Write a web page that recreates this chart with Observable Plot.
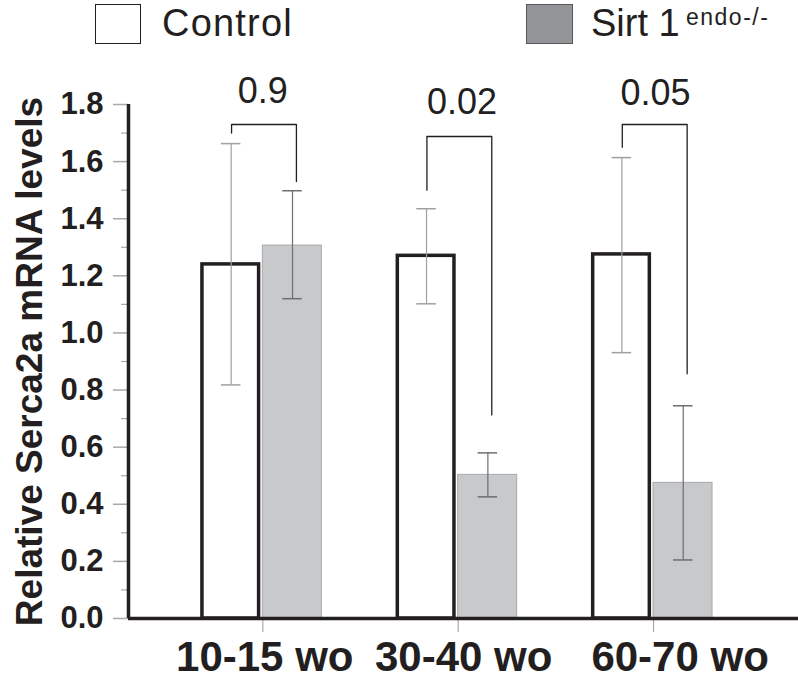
<!DOCTYPE html>
<html>
<head>
<meta charset="utf-8">
<script src="https://cdn.jsdelivr.net/npm/d3@7"></script>
<script src="https://cdn.jsdelivr.net/npm/@observablehq/plot@0.6"></script>
<style>
  body { margin: 0; background: #fff; }
  #wrap { width: 798px; height: 688px; position: relative; font-family: "Liberation Sans", Arial, Helvetica, sans-serif; color: #231f20; }
  #legend { position: relative; width: 798px; height: 52px; }
  .box { position: absolute; box-sizing: border-box; }
  .lt { position: absolute; font-size: 38px; line-height: 1; white-space: nowrap; }
  .sup { position: absolute; font-size: 23px; line-height: 1; white-space: nowrap; letter-spacing: 1.5px; }
  #chart svg { display: block; }
</style>
</head>
<body>
<div id="wrap">
  <div id="legend">
    <div class="box" style="left:95px;top:4px;width:46px;height:40px;border:1.5px solid #231f20;background:#fff;"></div>
    <span class="lt" style="left:162px;top:4px;letter-spacing:1.2px;">Control</span>
    <div class="box" style="left:526px;top:4px;width:47px;height:40px;border:1.5px solid #58595b;background:#939598;"></div>
    <span class="lt" style="left:591px;top:4px;">Sirt 1</span>
    <span class="sup" style="left:686px;top:6px;">endo-/-</span>
  </div>
  <div id="chart"></div>
</div>
<script>
// ---- data ----
const groups = ["10-15 wo", "30-40 wo", "60-70 wo"];
const controlMean = [1.24, 1.27, 1.275];
const controlHigh = [1.663, 1.435, 1.614];
const controlLow  = [0.818, 1.102, 0.931];
const sirtMean = [1.306, 0.503, 0.475];
const sirtHigh = [1.498, 0.580, 0.745];
const sirtLow  = [1.120, 0.426, 0.205];
const pValues = ["0.9", "0.02", "0.05"];
const pLabelY = [1.804, 1.765, 1.80];
const bracketTop = [1.73, 1.688, 1.73];
const bracketLeftEnd = [1.70, 1.50, 1.65];
const bracketRightEnd = [1.53, 0.713, 0.857];
const yTicks = [0, 0.2, 0.4, 0.6, 0.8, 1.0, 1.2, 1.4, 1.6, 1.8];
const yMinorTicks = [0.1, 0.3, 0.5, 0.7, 0.9, 1.1, 1.3, 1.5, 1.7];

// ---- layout options (within-group offsets, in group units) ----
const barSpan = {Control: [-0.309, -0.019], Sirt: [0.0, 0.302]};
const errOffset = {Control: -0.162, Sirt: 0.152};
const capHalf = 0.05;
const legLeft = -0.16, legRight = 0.172;
const labelShift = [0.01, 0.028, 0.136];
const pShift = [0.0, 0.02, 0.01];
const xDomain = [-0.6875, 2.742];

const rows = groups.flatMap((g, i) => [
  {gi: i, series: "Control", mean: controlMean[i], lo: controlLow[i], hi: controlHigh[i]},
  {gi: i, series: "Sirt", mean: sirtMean[i], lo: sirtLow[i], hi: sirtHigh[i]}
]);
const ctrl = rows.filter(d => d.series === "Control");
const sirt = rows.filter(d => d.series === "Sirt");
const caps = rows.flatMap(d => [{...d, y: d.lo}, {...d, y: d.hi}]);
const bracketPts = groups.flatMap((g, i) => [
  {gi: i, x: i + legLeft, y: bracketLeftEnd[i]},
  {gi: i, x: i + legLeft, y: bracketTop[i]},
  {gi: i, x: i + legRight, y: bracketTop[i]},
  {gi: i, x: i + legRight, y: bracketRightEnd[i]}
]);
const pRows = groups.map((g, i) => ({gi: i, label: pValues[i], y: pLabelY[i]}));
const labelRows = groups.map((g, i) => ({gi: i, label: g}));

const ink = "#231f20";
const tickGray = "#a7a9ac";

const chart = Plot.plot({
  width: 798,
  height: 636,
  marginLeft: 128,
  marginRight: 0,
  marginTop: 52,
  marginBottom: 70,
  style: {fontFamily: '"Liberation Sans", Arial, Helvetica, sans-serif', background: "#fff", overflow: "visible"},
  x: {domain: xDomain},
  y: {domain: [0, 1.8]},
  marks: [
    Plot.axisY({ticks: yMinorTicks, tickSize: 7, tickFormat: () => "", stroke: tickGray, strokeWidth: 1.2, label: null}),
    Plot.axisY({ticks: yTicks, tickSize: 15, tickPadding: 10, tickFormat: d => d.toFixed(1),
      fontSize: 31, fontWeight: "bold", stroke: tickGray, strokeWidth: 1.5, fill: ink, label: null}),
    Plot.axisX({ticks: [0, 1, 2], tickFormat: () => "", tickSize: 14, stroke: tickGray, strokeWidth: 1.2, label: null}),
    Plot.text(labelRows, {x: d => d.gi + labelShift[d.gi], frameAnchor: "bottom", lineAnchor: "top", dy: 23,
      text: "label", fontSize: 42, fontWeight: "bold", fill: ink}),
    Plot.rect(sirt, {x1: d => d.gi + barSpan.Sirt[0], x2: d => d.gi + barSpan.Sirt[1], y1: 0, y2: "mean",
      fill: "#c8c9cb", stroke: "#a7a9ac", strokeWidth: 1}),
    Plot.rect(ctrl, {x1: d => d.gi + barSpan.Control[0], x2: d => d.gi + barSpan.Control[1], y1: 0, y2: "mean",
      fill: "#fff", stroke: ink, strokeWidth: 3.5}),
    Plot.ruleX(ctrl, {x: d => d.gi + errOffset.Control, y1: "lo", y2: "hi", stroke: "#a0a0a0", strokeWidth: 1.2}),
    Plot.ruleX(sirt, {x: d => d.gi + errOffset.Sirt, y1: "lo", y2: "hi", stroke: "#6d6e71", strokeWidth: 1.2}),
    Plot.ruleY(caps.filter(d => d.series === "Control"), {y: "y", x1: d => d.gi + errOffset.Control - capHalf, x2: d => d.gi + errOffset.Control + capHalf, stroke: "#a0a0a0", strokeWidth: 1.5}),
    Plot.ruleY(caps.filter(d => d.series === "Sirt"), {y: "y", x1: d => d.gi + errOffset.Sirt - capHalf, x2: d => d.gi + errOffset.Sirt + capHalf, stroke: "#6d6e71", strokeWidth: 1.5}),
    Plot.line(bracketPts, {x: "x", y: "y", z: "gi", stroke: ink, strokeWidth: 1.3, curve: "linear"}),
    Plot.text(pRows, {x: d => d.gi + pShift[d.gi], y: "y", text: "label", lineAnchor: "bottom", fontSize: 36, fill: ink}),
    Plot.ruleY([0], {stroke: ink, strokeWidth: 3.5}),
    Plot.ruleX([xDomain[0]], {stroke: ink, strokeWidth: 3.5}),
    Plot.text(["Relative Serca2a mRNA levels"], {frameAnchor: "left", textAnchor: "middle", rotate: -90, dx: -98,
      fontSize: 37, fontWeight: "bold", fill: ink})
  ]
});
document.getElementById("chart").appendChild(chart);
</script>
</body>
</html>
